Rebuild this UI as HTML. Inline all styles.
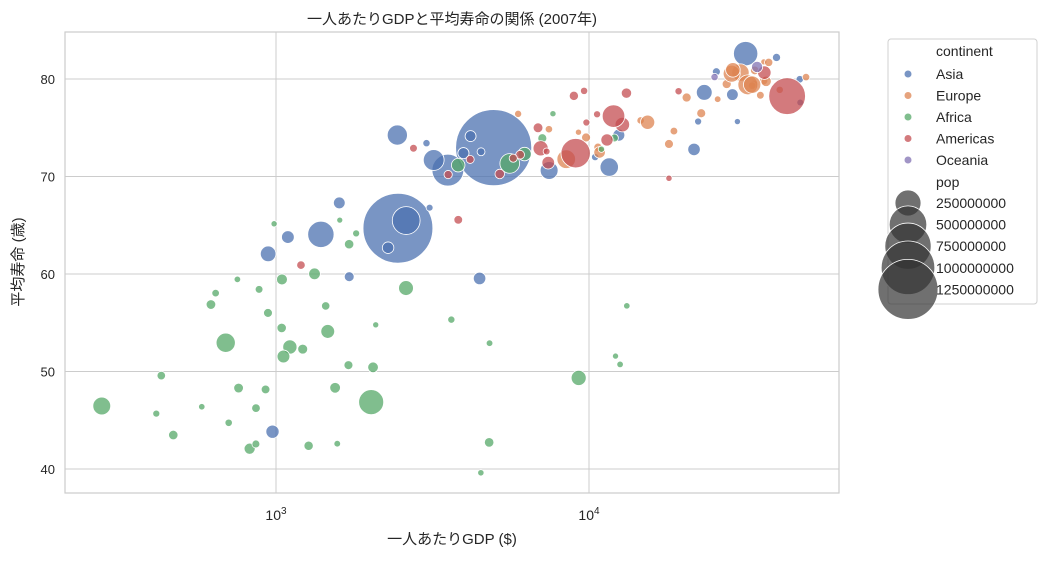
<!DOCTYPE html>
<html><head><meta charset="utf-8"><style>
body{margin:0;background:#fff;}
svg text{font-family:"Liberation Sans","Noto Sans CJK JP",sans-serif;fill:#262626;}
</style></head><body>
<svg id="chart" width="1047" height="557" xmlns="http://www.w3.org/2000/svg">
<rect x="0" y="0" width="1047" height="557" fill="#fff"/>
<text x="452" y="24" font-size="15" text-anchor="middle">一人あたりGDPと平均寿命の関係 (2007年)</text>
<text x="452" y="544" font-size="15" text-anchor="middle">一人あたりGDP ($)</text>
<text x="23" y="262" font-size="15" text-anchor="middle" transform="rotate(-90 23 262)">平均寿命 (歳)</text>
<g id="grid"></g><g id="pts"></g><g id="axes"></g><g id="legend"></g>
</svg>
<script>
const continents=["Asia","Europe","Africa","Americas","Oceania"];
const colors=["#4c72b0","#dd8452","#55a868","#c44e52","#8172b3"];
const xTicks=[1000,10000];
const xTickExp=["3","4"];
const yTicks=[40,50,60,70,80];
const sizeLegend=[250000000,500000000,750000000,1000000000,1250000000];
// [continentIndex, gdpPercap, lifeExp, pop(millions)]
const asia=[[0,974.58,43.828,31.89],[0,29796,75.635,0.71],[0,1391.25,64.062,150.45],[0,1713.78,59.723,14.13],[0,4959.11,72.961,1318.68],[0,39724.98,82.208,6.98],[0,2452.21,64.698,1110.4],[0,3540.65,70.65,223.55],[0,11605.71,70.964,69.45],[0,4471.06,59.545,27.5],[0,25523.28,80.745,6.43],[0,31656.07,82.603,127.47],[0,4519.46,72.535,6.05],[0,1593.07,67.297,23.3],[0,23348.14,78.623,49.04],[0,47306.99,77.588,2.51],[0,10461.06,71.993,3.92],[0,12451.66,74.241,24.82],[0,3095.77,66.803,2.87],[0,944,62.069,47.76],[0,1091.36,63.785,28.9],[0,22316.19,75.64,3.2],[0,2605.95,65.483,169.27],[0,3190.48,71.688,91.08],[0,21654.83,72.777,27.6],[0,47143.18,79.972,4.55],[0,3970.1,72.396,20.38],[0,4184.55,74.143,19.31],[0,28718.28,78.4,23.17],[0,7458.4,70.616,65.07],[0,2441.58,74.249,85.26],[0,3025.35,73.422,4.02],[0,2280.77,62.698,22.21]];
const europe=[[1,5937.03,76.423,3.6],[1,36126.49,79.829,8.2],[1,33692.6,79.441,10.39],[1,7446.3,74.852,4.55],[1,10680.79,73.005,7.32],[1,14619.22,75.748,4.49],[1,22833.31,76.486,10.23],[1,35278.42,78.332,5.47],[1,33207.08,79.313,5.24],[1,30470.02,80.657,61.08],[1,32170.37,79.406,82.4],[1,27538.41,79.483,10.71],[1,18008.94,73.338,9.96],[1,36180.79,81.757,0.3],[1,40676,78.885,4.11],[1,28569.72,80.546,58.15],[1,9253.9,74.543,0.68],[1,36797.93,79.762,16.57],[1,49357.19,80.196,4.63],[1,15389.92,75.563,38.52],[1,20509.65,78.098,10.64],[1,10808.48,72.476,22.28],[1,9786.53,74.002,10.15],[1,18678.31,74.663,5.45],[1,25768.26,77.926,2.01],[1,28821.06,80.941,40.45],[1,33859.75,80.884,9.03],[1,37506.42,81.701,7.55],[1,8458.28,71.777,71.16],[1,33203.26,79.425,60.78]];
const africa=[[2,6223.37,72.301,33.33],[2,4797.23,42.731,12.42],[2,1441.28,56.728,8.08],[2,12569.85,50.728,1.64],[2,1217.03,52.295,14.33],[2,430.07,49.58,8.39],[2,2042.1,50.43,17.7],[2,706.02,44.741,4.37],[2,1704.06,50.651,10.24],[2,986.15,65.152,0.71],[2,277.55,46.462,64.6],[2,3632.56,55.322,3.8],[2,1544.75,48.328,18.01],[2,2082.48,54.791,0.5],[2,5581.18,71.338,80.26],[2,12154.09,51.579,0.55],[2,641.37,58.04,4.91],[2,690.81,52.947,76.51],[2,13206.48,56.735,1.45],[2,752.75,59.448,1.69],[2,1327.61,60.022,22.87],[2,942.65,56.007,9.95],[2,579.23,46.388,1.47],[2,1463.25,54.11,35.61],[2,1569.33,42.592,2.01],[2,414.51,45.678,3.19],[2,12057.5,73.952,6.04],[2,1044.77,59.443,19.17],[2,759.35,48.303,13.33],[2,1042.58,54.467,12.03],[2,1803.15,64.164,3.27],[2,10956.99,72.801,1.25],[2,3820.18,71.164,33.76],[2,823.69,42.082,19.95],[2,4811.06,52.906,2.06],[2,619.68,56.867,12.89],[2,2013.98,46.859,135.03],[2,7670.12,76.442,0.8],[2,863.09,46.242,8.86],[2,1598.44,65.528,0.2],[2,1712.47,63.062,12.27],[2,862.54,42.568,6.14],[2,926.14,48.159,9.12],[2,9269.66,49.339,43.99],[2,2602.39,58.556,42.29],[2,4513.48,39.613,1.13],[2,1107.48,52.517,38.14],[2,882.97,58.42,5.7],[2,7092.92,73.923,10.28],[2,1056.38,51.542,29.17],[2,1271.21,42.384,11.75],[2,469.71,43.487,12.31]];
const americas=[[3,12779.38,75.32,40.3],[3,3822.14,65.554,9.12],[3,9065.8,72.39,190.01],[3,36319.24,80.653,33.39],[3,13171.64,78.553,16.28],[3,7006.58,72.889,44.23],[3,9645.06,78.782,4.13],[3,8948.1,78.273,11.42],[3,6025.37,72.235,9.32],[3,6873.26,74.994,13.76],[3,5728.35,71.878,6.94],[3,5186.05,70.259,12.57],[3,1201.64,60.916,8.5],[3,3548.33,70.198,7.48],[3,7320.88,72.567,2.78],[3,11977.57,76.195,108.7],[3,2749.32,72.899,5.68],[3,9809.19,75.537,3.24],[3,4172.84,71.752,6.67],[3,7408.91,71.421,28.67],[3,19328.71,78.746,3.94],[3,18008.51,69.819,1.06],[3,42951.65,78.242,301.14],[3,10611.46,76.384,3.45],[3,11415.81,73.747,26.08]];
const oceania=[[4,34435.37,81.235,20.43],[4,25185.01,80.204,4.12]];

const NS="http://www.w3.org/2000/svg";
const L=65,R=839,T=32,B=493;
function xs(v){return 276+313*(Math.log10(v)-3);}
function ys(v){return 79+(80-v)*9.75;}
function rs(popM){return Math.sqrt(9+1089*popM/1000);}
function mk(tag,attrs,parent){const e=document.createElementNS(NS,tag);for(const k in attrs)e.setAttribute(k,attrs[k]);parent.appendChild(e);return e;}
const grid=document.getElementById('grid'),axes=document.getElementById('axes'),pts=document.getElementById('pts'),leg=document.getElementById('legend');
yTicks.forEach(t=>{const y=ys(t);
 const l=mk('line',{x1:L,x2:R,y1:y,y2:y,stroke:'#cccccc','stroke-width':1},grid);
 
 
 const tx=mk('text',{x:L-10,y:y+5,'font-size':13,'text-anchor':'end'},axes);tx.textContent=t;
 
 
});
xTicks.forEach((t,i)=>{const x=xs(t);
 const l=mk('line',{x1:x,x2:x,y1:T,y2:B,stroke:'#cccccc','stroke-width':1},grid);
 
 
 const tx=mk('text',{x:x,y:520,'font-size':14,'text-anchor':'middle'},axes);
 
 
 tx.innerHTML='10<tspan dy="-6" font-size="10">'+xTickExp[i]+'</tspan>';
});
const frame=mk('rect',{x:L,y:T,width:R-L,height:B-T,fill:'none',stroke:'#cccccc','stroke-width':1.2},axes);


[...asia,...europe,...africa,...americas,...oceania].forEach(d=>{
 const c=mk('circle',{cx:xs(d[1]),cy:ys(d[2]),r:rs(d[3]),fill:colors[d[0]],'fill-opacity':0.75,stroke:'#fff','stroke-width':0.8},pts);
 
 
});
const box=mk('rect',{x:888,y:39,width:149,height:265,rx:3,fill:'#fff','fill-opacity':0.8,stroke:'#d0d0d0'},leg);


function ltext(s,y,name){const t=mk('text',{x:936,y:y+5,'font-size':14},leg);t.textContent=s;
 
 }
ltext('continent',51,'legend-title-continent');
continents.forEach((c,i)=>{const y=74+i*21.5;
 const m=mk('circle',{cx:908,cy:y,r:3.5,fill:colors[i],'fill-opacity':0.75},leg);
 
 
 ltext(c,y,'legend-entry-'+c.toLowerCase());});
ltext('pop',182,'legend-title-pop');
sizeLegend.forEach((p,i)=>{const y=203+i*21.6;
 const r=Math.sqrt(Math.max(0,169+731*(p/1e6-250)/1000));
 const m=mk('circle',{cx:908,cy:y,r:r,fill:'#333','fill-opacity':0.7,stroke:'#fff','stroke-width':0.8},leg);
 
 
});
sizeLegend.forEach((p,i)=>{ltext(String(p),203+i*21.6,'legend-entry-pop');});
</script>
</body></html>
